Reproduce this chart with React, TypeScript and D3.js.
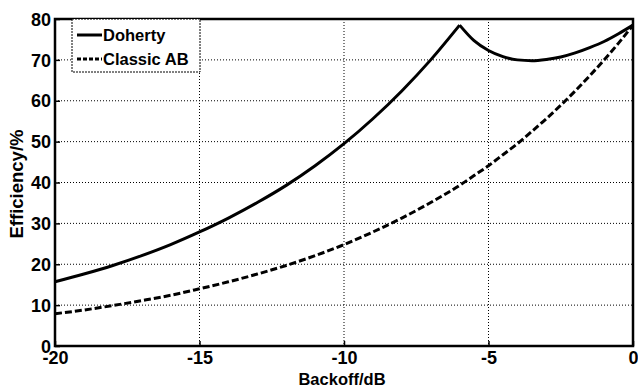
import React, { useEffect, useRef } from "react";
import * as d3 from "d3";

// backoff in dB, efficiency in %
const backoff = [-20, -19, -18, -17, -16, -15, -14, -13, -12, -11, -10, -9, -8, -7, -6, -5.5, -5, -4.5, -4, -3.5, -3, -2.5, -2, -1.5, -1, -0.5, 0];
const doherty = [15.7, 17.6, 19.7, 22.1, 24.8, 27.9, 31.3, 35.1, 39.3, 44.1, 49.5, 55.6, 62.4, 70.0, 78.5, 74.7, 72.3, 70.8, 70.0, 69.8, 70.1, 70.7, 71.7, 73.0, 74.5, 76.4, 78.5];
const classicAB = [7.9, 8.8, 9.9, 11.1, 12.4, 14.0, 15.7, 17.6, 19.7, 22.1, 24.8, 27.9, 31.3, 35.1, 39.3, 41.7, 44.1, 46.8, 49.5, 52.5, 55.6, 58.9, 62.4, 66.1, 70.0, 74.1, 78.5];
const xTicks = [-20, -15, -10, -5, 0];
const yTicks = [0, 10, 20, 30, 40, 50, 60, 70, 80];
const seriesNames = ["Doherty", "Classic AB"];

const W = 638;
const H = 387;
const m = { top: 19, right: 5, bottom: 41, left: 55 };

export default function App() {
  const ref = useRef<SVGSVGElement>(null);

  useEffect(() => {
    document.body.style.margin = "0";
    const svg = d3.select(ref.current);
    svg.selectAll("*").remove();

    const x = d3.scaleLinear().domain([-20, 0]).range([m.left, W - m.right]);
    const y = d3.scaleLinear().domain([0, 80]).range([H - m.bottom, m.top]);
    const font = "'Liberation Sans', Arial, sans-serif";

    // grid
    const grid = svg.append("g").attr("stroke", "#000").attr("stroke-width", 1).attr("stroke-dasharray", "1,2");
    grid.selectAll("line.h").data(yTicks.slice(1, -1)).enter().append("line")
      .attr("x1", m.left).attr("x2", W - m.right)
      .attr("y1", (d) => y(d)).attr("y2", (d) => y(d));
    grid.selectAll("line.v").data(xTicks.slice(1, -1)).enter().append("line")
      .attr("y1", m.top).attr("y2", H - m.bottom)
      .attr("x1", (d) => x(d)).attr("x2", (d) => x(d));

    // lines
    const pts = (vals: number[]) => backoff.map((b, i) => [b, vals[i]] as [number, number]);
    const line = d3.line<[number, number]>().x((d) => x(d[0])).y((d) => y(d[1])).curve(d3.curveMonotoneX);
    // Doherty has a sharp peak at -6 dB: draw as two pieces
    const dPts = pts(doherty);
    const peak = backoff.indexOf(-6);
    svg.append("path").attr("d", line(dPts.slice(0, peak + 1)))
      .attr("fill", "none").attr("stroke", "#000").attr("stroke-width", 3);
    svg.append("path").attr("d", line(dPts.slice(peak)))
      .attr("fill", "none").attr("stroke", "#000").attr("stroke-width", 3);
    svg.append("path").attr("d", line(pts(classicAB)))
      .attr("fill", "none").attr("stroke", "#000").attr("stroke-width", 3)
      .attr("stroke-dasharray", "7,3");

    // frame
    svg.append("rect").attr("x", m.left).attr("y", m.top)
      .attr("width", W - m.left - m.right).attr("height", H - m.top - m.bottom)
      .attr("fill", "none").attr("stroke", "#000").attr("stroke-width", 2.5);

    // axes
    const fmt = (d: d3.NumberValue) => String(d);
    const xAxis = d3.axisBottom(x).tickValues(xTicks).tickSize(-5).tickPadding(5).tickFormat(fmt);
    const yAxis = d3.axisLeft(y).tickValues(yTicks).tickSize(-5).tickPadding(4).tickFormat(fmt);
    const gx = svg.append("g").attr("transform", `translate(0,${H - m.bottom})`).call(xAxis);
    const gy = svg.append("g").attr("transform", `translate(${m.left},0)`).call(yAxis);
    [gx, gy].forEach((g) => {
      g.select(".domain").remove();
      g.selectAll("line").attr("stroke", "#000").attr("stroke-width", 1.5);
      g.selectAll("text").attr("font-family", font).attr("font-weight", "bold")
        .attr("font-size", 18).attr("fill", "#000");
    });
    gy.selectAll("text").attr("dy", "0.34em");

    svg.append("text").attr("x", 342).attr("y", 385).attr("text-anchor", "middle")
      .attr("font-family", font).attr("font-weight", "bold").attr("font-size", 16.5)
      .text("Backoff/dB");
    svg.append("text").attr("transform", "translate(23,184) rotate(-90)").attr("text-anchor", "middle")
      .attr("font-family", font).attr("font-weight", "bold").attr("font-size", 18.5)
      .text("Efficiency/%");

    // legend
    const lg = svg.append("g");
    lg.append("rect").attr("x", 72).attr("y", m.top).attr("width", 128).attr("height", 53)
      .attr("fill", "#fff").attr("stroke", "#000").attr("stroke-width", 1).attr("stroke-dasharray", "2,1");
    seriesNames.forEach((name, i) => {
      const ly = 35 + i * 24;
      lg.append("line").attr("x1", 77).attr("x2", 102).attr("y1", ly).attr("y2", ly)
        .attr("stroke", "#000").attr("stroke-width", 3)
        .attr("stroke-dasharray", i === 1 ? "4,2" : null);
      lg.append("text").attr("x", 103).attr("y", ly + 6)
        .attr("font-family", font).attr("font-weight", "bold").attr("font-size", 16.5)
        .text(name);
    });
  }, []);

  return <svg ref={ref} width={W} height={H} style={{ display: "block", background: "#fff" }} />;
}
